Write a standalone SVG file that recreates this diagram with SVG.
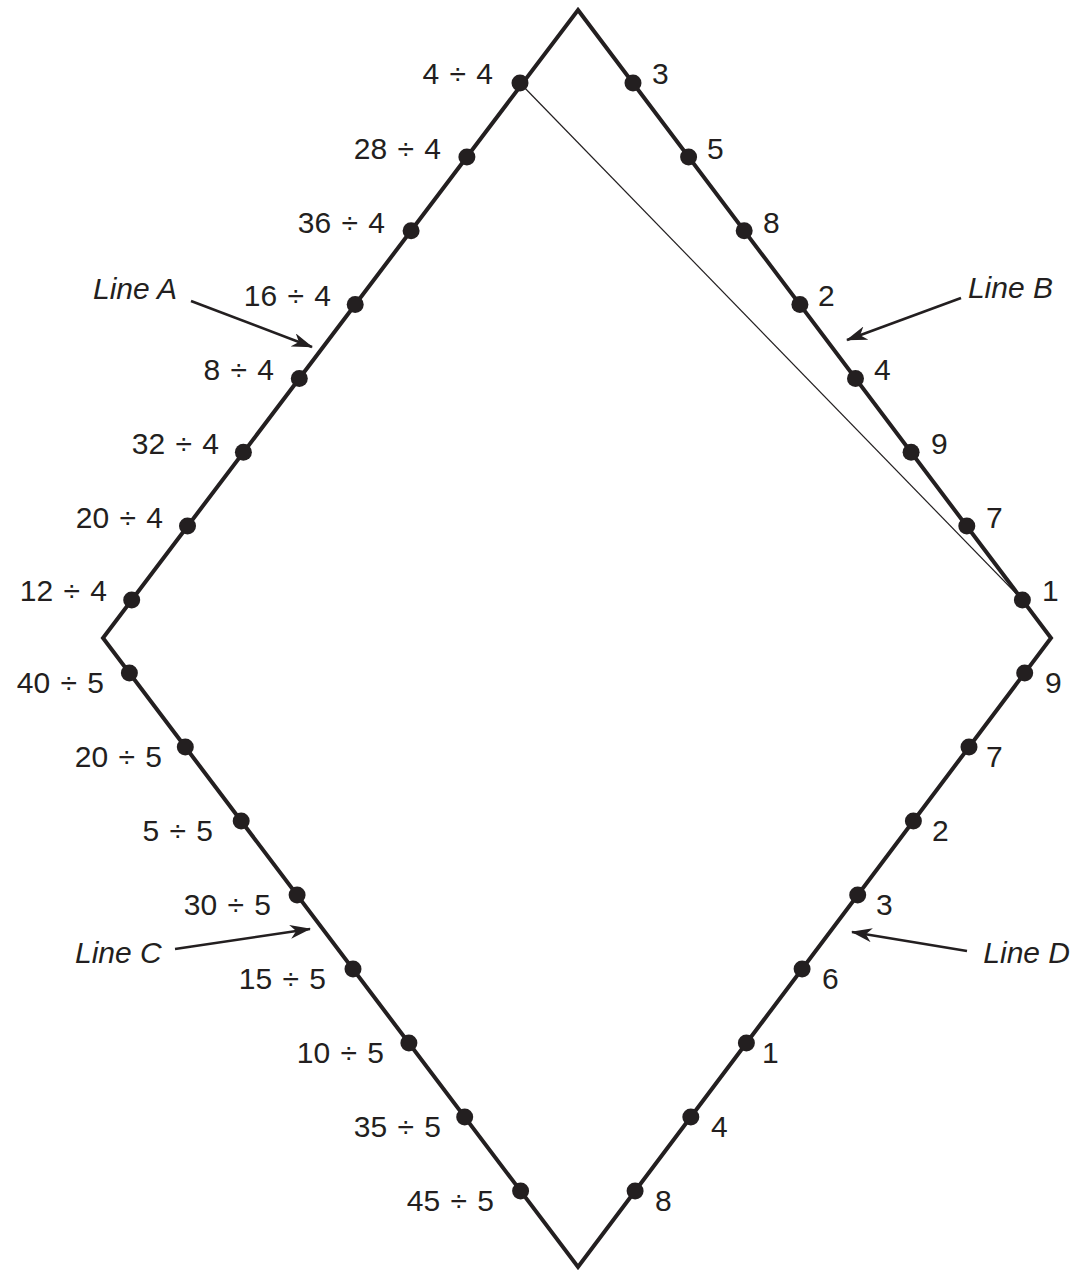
<svg xmlns="http://www.w3.org/2000/svg" width="1073" height="1272" viewBox="0 0 1073 1272">
<defs>
<style>
.lbl{font-family:"Liberation Sans",Arial,sans-serif;font-size:30px;fill:#231f20;word-spacing:2px}
.it{font-family:"Liberation Sans",Arial,sans-serif;font-size:30px;font-style:italic;fill:#231f20}
.e{text-anchor:end}
.dot{fill:#231f20}
.edge{fill:none;stroke:#231f20;stroke-width:4;stroke-linejoin:miter}
.thin{stroke:#231f20;stroke-width:1.2;fill:none}
.arr{stroke:#231f20;stroke-width:2.6;fill:none;marker-end:url(#ah)}
</style>
<marker id="ah" markerUnits="userSpaceOnUse" markerWidth="22" markerHeight="14" refX="20" refY="7" orient="auto" viewBox="0 0 22 14">
<path d="M0,0 L21,7 L0,14 L6,7 Z" fill="#231f20"/>
</marker>
</defs>
<rect width="1073" height="1272" fill="#ffffff"/>
<g id="connectors">
<polygon class="edge" points="578,10 1051,638 578,1267 103,638"/>
<line class="thin" x1="520" y1="83" x2="1022.4" y2="600"/>
<line class="arr" x1="191" y1="301" x2="312" y2="347"/>
<line class="arr" x1="961" y1="298" x2="847" y2="340"/>
<line class="arr" x1="175" y1="949" x2="310" y2="929"/>
<line class="arr" x1="967" y1="951" x2="852" y2="932"/>
</g>
<g id="lineA-points">
<g id="a1"><circle class="dot" cx="520" cy="83" r="8.5"/><text class="lbl e" x="493" y="84">4 ÷ 4</text></g>
<g id="a2"><circle class="dot" cx="466.9" cy="156.9" r="8.5"/><text class="lbl e" x="441" y="159">28 ÷ 4</text></g>
<g id="a3"><circle class="dot" cx="411.1" cy="230.7" r="8.5"/><text class="lbl e" x="385" y="233">36 ÷ 4</text></g>
<g id="a4"><circle class="dot" cx="355.2" cy="304.6" r="8.5"/><text class="lbl e" x="331" y="306">16 ÷ 4</text></g>
<g id="a5"><circle class="dot" cx="299.3" cy="378.4" r="8.5"/><text class="lbl e" x="274" y="380">8 ÷ 4</text></g>
<g id="a6"><circle class="dot" cx="243.4" cy="452.3" r="8.5"/><text class="lbl e" x="219" y="454">32 ÷ 4</text></g>
<g id="a7"><circle class="dot" cx="187.5" cy="526.1" r="8.5"/><text class="lbl e" x="163" y="528">20 ÷ 4</text></g>
<g id="a8"><circle class="dot" cx="131.7" cy="600" r="8.5"/><text class="lbl e" x="107" y="601">12 ÷ 4</text></g>
</g>
<g id="lineB-points">
<g id="b1"><circle class="dot" cx="633" cy="83" r="8.5"/><text class="lbl" x="652" y="84">3</text></g>
<g id="b2"><circle class="dot" cx="688.6" cy="156.9" r="8.5"/><text class="lbl" x="707" y="159">5</text></g>
<g id="b3"><circle class="dot" cx="744.2" cy="230.7" r="8.5"/><text class="lbl" x="763" y="233">8</text></g>
<g id="b4"><circle class="dot" cx="799.9" cy="304.6" r="8.5"/><text class="lbl" x="818" y="306">2</text></g>
<g id="b5"><circle class="dot" cx="855.5" cy="378.4" r="8.5"/><text class="lbl" x="874" y="380">4</text></g>
<g id="b6"><circle class="dot" cx="911.1" cy="452.3" r="8.5"/><text class="lbl" x="931" y="454">9</text></g>
<g id="b7"><circle class="dot" cx="966.8" cy="526.1" r="8.5"/><text class="lbl" x="986" y="528">7</text></g>
<g id="b8"><circle class="dot" cx="1022.4" cy="600" r="8.5"/><text class="lbl" x="1042" y="601">1</text></g>
</g>
<g id="lineC-points">
<g id="c1"><circle class="dot" cx="129.4" cy="673" r="8.5"/><text class="lbl e" x="104" y="693">40 ÷ 5</text></g>
<g id="c2"><circle class="dot" cx="185.3" cy="747" r="8.5"/><text class="lbl e" x="162" y="767">20 ÷ 5</text></g>
<g id="c3"><circle class="dot" cx="241.2" cy="821" r="8.5"/><text class="lbl e" x="213" y="841">5 ÷ 5</text></g>
<g id="c4"><circle class="dot" cx="297.1" cy="895" r="8.5"/><text class="lbl e" x="271" y="915">30 ÷ 5</text></g>
<g id="c5"><circle class="dot" cx="353" cy="969" r="8.5"/><text class="lbl e" x="326" y="989">15 ÷ 5</text></g>
<g id="c6"><circle class="dot" cx="408.9" cy="1043" r="8.5"/><text class="lbl e" x="384" y="1063">10 ÷ 5</text></g>
<g id="c7"><circle class="dot" cx="464.7" cy="1117" r="8.5"/><text class="lbl e" x="441" y="1137">35 ÷ 5</text></g>
<g id="c8"><circle class="dot" cx="520.6" cy="1191" r="8.5"/><text class="lbl e" x="494" y="1211">45 ÷ 5</text></g>
</g>
<g id="lineD-points">
<g id="d1"><circle class="dot" cx="1024.7" cy="673" r="8.5"/><text class="lbl" x="1045" y="693">9</text></g>
<g id="d2"><circle class="dot" cx="969" cy="747" r="8.5"/><text class="lbl" x="986" y="767">7</text></g>
<g id="d3"><circle class="dot" cx="913.4" cy="821" r="8.5"/><text class="lbl" x="932" y="841">2</text></g>
<g id="d4"><circle class="dot" cx="857.7" cy="895" r="8.5"/><text class="lbl" x="876" y="915">3</text></g>
<g id="d5"><circle class="dot" cx="802.1" cy="969" r="8.5"/><text class="lbl" x="822" y="989">6</text></g>
<g id="d6"><circle class="dot" cx="746.4" cy="1043" r="8.5"/><text class="lbl" x="762" y="1063">1</text></g>
<g id="d7"><circle class="dot" cx="690.8" cy="1117" r="8.5"/><text class="lbl" x="711" y="1137">4</text></g>
<g id="d8"><circle class="dot" cx="635.1" cy="1191" r="8.5"/><text class="lbl" x="655" y="1211">8</text></g>
</g>
<g id="line-labels">
<text id="lab-a" class="it" x="93" y="299">Line A</text>
<text id="lab-b" class="it e" x="1053" y="298">Line B</text>
<text id="lab-c" class="it" x="75" y="963">Line C</text>
<text id="lab-d" class="it e" x="1070" y="963">Line D</text>
</g>
</svg>
